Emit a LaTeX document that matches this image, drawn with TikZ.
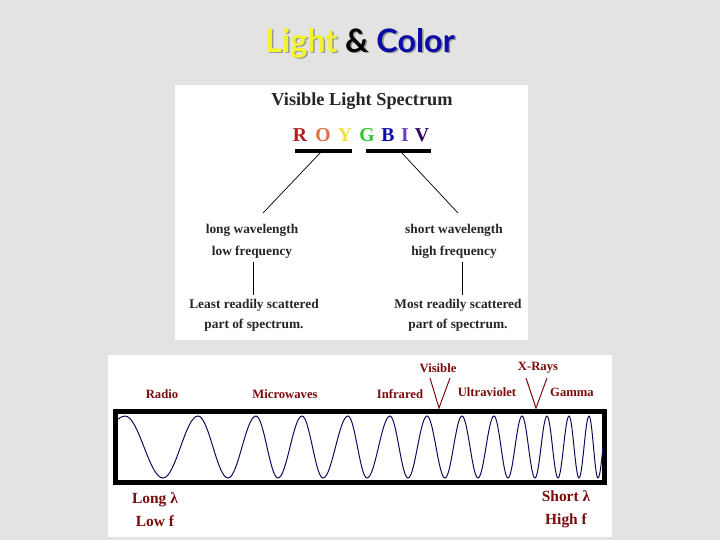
\documentclass[tikz,border=0pt]{standalone}
\usepackage{fontspec}
\setmainfont{Liberation Serif}
\newfontfamily\titlefont{Lato}
\usetikzlibrary{positioning,calc}
\definecolor{paper}{HTML}{E3E3E1}
\definecolor{bandred}{HTML}{7A0C0C}
\definecolor{wavenavy}{HTML}{0B0B5C}
\definecolor{lightyellow}{HTML}{F4F42E}
\definecolor{colorblue}{HTML}{0B0BA6}
\definecolor{royR}{HTML}{B01E1E}
\definecolor{royO}{HTML}{E0703C}
\definecolor{royY}{HTML}{F0E23A}
\definecolor{royG}{HTML}{2FC42F}
\definecolor{royB}{HTML}{0C0CA8}
\definecolor{royI}{HTML}{6A3CC8}
\definecolor{royV}{HTML}{34065E}

\begin{document}
\begin{tikzpicture}[
  x=0.025cm, y=-0.025cm,
  ttl/.style={font=\titlefont\bfseries\fontsize{23}{23}\selectfont, inner sep=0pt},
  head/.style={font=\bfseries\fontsize{13}{13}\selectfont, text=black!85},
  letter/.style={font=\bfseries\fontsize{14}{14}\selectfont, inner sep=0pt},
  txt/.style={font=\bfseries\fontsize{9.5}{15.6}\selectfont, text=black!85, align=center, inner sep=2.5pt},
  sub/.style={font=\bfseries\fontsize{9.5}{14.2}\selectfont, text=black!85, align=center, inner sep=2.5pt},
  band/.style={font=\bfseries\fontsize{9}{11}\selectfont, text=bandred, inner sep=1pt},
  ends/.style={font=\bfseries\fontsize{11}{16.3}\selectfont, text=bandred, align=center},
  bar/.style={line width=2.2pt},
  thinline/.style={line width=0.5pt},
  vee/.style={draw=bandred, line width=0.7pt},
  wave/.style={draw=wavenavy, line width=0.7pt},
]
  % paper and the two white panels
  \fill[paper] (0,0) rectangle (720,540);
  \fill[white] (175,85) rectangle (528,340);
  \fill[white] (108,355) rectangle (612,537);

  % title
  \node[ttl, text=black!40] (titleshadow) at (361.5,44.5) {Light \& Color};
  \node[ttl] (title) at (360,43) {\textcolor{lightyellow}{Light} \& \textcolor{colorblue}{Color}};

  % visible spectrum
  \node[head] (vls) at (362,101) {Visible Light Spectrum};
  \foreach \ch/\cx in {R/300, O/323, Y/345, G/367, B/388, I/405, V/422}
    \node[letter, text=roy\ch] (l\ch) at (\cx,135) {\ch};
  \draw[bar] (295,151) -- (352,151);
  \draw[bar] (366,151) -- (431,151);
  \coordinate (barl) at (321,152);
  \coordinate (barr) at (401,152);
  \coordinate (ll) at (263,213);
  \coordinate (rr) at (458,213);
  \draw[thinline] (barl) -- (ll);
  \draw[thinline] (barr) -- (rr);

  \node[txt] (lw) at (252,241) {long wavelength\\low frequency};
  \node[sub] (lsc) at (254,315) {Least readily scattered\\part of spectrum.};
  \node[txt] (sw) at (454,241) {short wavelength\\high frequency};
  \node[sub] (msc) at (458,315) {Most readily scattered\\part of spectrum.};
  \path (lw.south) ++(1,0) coordinate (lwl);
  \path (sw.south) ++(8,0) coordinate (swl);
  \draw[thinline] (lwl) -- (lwl |- lsc.north);
  \draw[thinline] (swl) -- (swl |- msc.north);

  % electromagnetic bands
  \node[band] (radio) at (162,394) {Radio};
  \node[band] (micro) at (285,394) {Microwaves};
  \node[band] (infra) at (400,394) {Infrared};
  \node[band] (vis) at (438,368) {Visible};
  \node[band] (ultra) at (487,392) {Ultraviolet};
  \node[band] (xray) at (538,368) {X-Rays};
  \node[band] (gamma) at (572,392) {Gamma};
  \coordinate (visa) at (430,378);
  \coordinate (visv) at (439,408);
  \coordinate (visb) at (450,378);
  \coordinate (xraya) at (526,378);
  \coordinate (xrayv) at (536,408);
  \coordinate (xrayb) at (547,378);
  \draw[vee] (visa) -- (visv) -- (visb);
  \draw[vee] (xraya) -- (xrayv) -- (xrayb);

  % wave in its frame
  \draw[line width=3.6pt] (115.5,411.5) rectangle (604.5,482.5);
  \draw[wave] (118,419) sin (125,416)
    \foreach \xp/\xt/\xn in {125/163/198, 198/228/256, 256/278/302, 302/323/348,
        348/367/390, 390/408/427, 427/445/462, 462/478/494, 494/508/522,
        522/535/547, 547/558/569, 569/579/589}
      { cos ({(\xp+\xt)/2},447) sin (\xt,478) cos ({(\xt+\xn)/2},447) sin (\xn,416) }
    cos (593.5,447) sin (598,478) cos (603,447);

  \node[ends] (longend) at (155,509.5) {Long λ\\Low f};
  \node[ends] (shortend) at (566,509.5) {Short λ\\High f};
\end{tikzpicture}
\end{document}
